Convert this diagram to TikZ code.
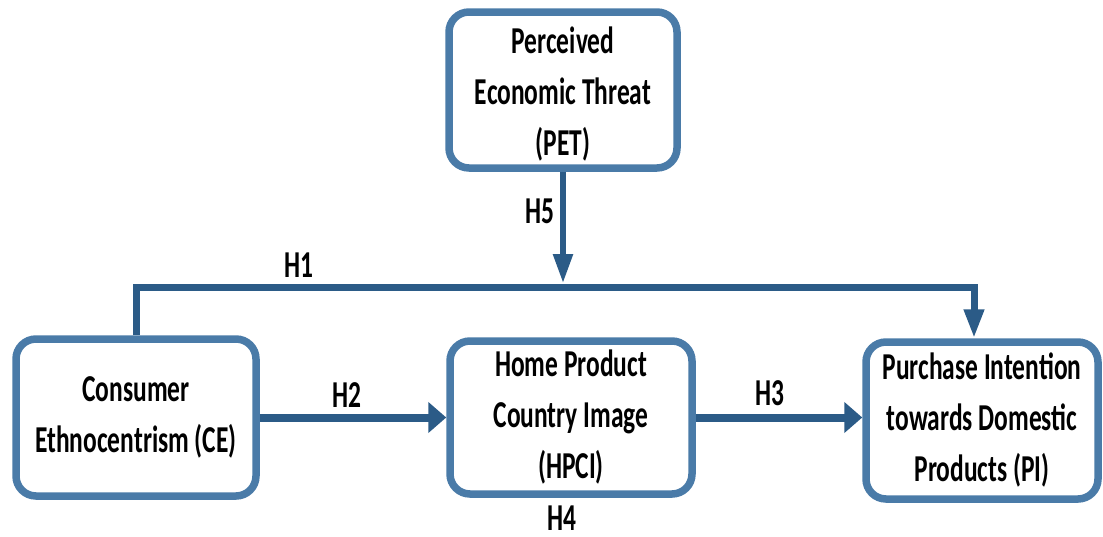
\documentclass[tikz,border=0pt]{standalone}
\usepackage{fontspec}
\newfontfamily\boxfont{Carlito}[FakeStretch=0.67]
\usetikzlibrary{arrows.meta}
\definecolor{boxblue}{HTML}{4A7BA8}
\definecolor{linkblue}{HTML}{2B5B87}
\begin{document}
\begin{tikzpicture}[x=1pt, y=-1pt,
  construct/.style={draw=boxblue, line width=7.5pt, rounded corners=20pt,
    fill=white, align=center, inner sep=0pt,
    font=\boxfont\bfseries\fontsize{38}{51}\selectfont},
  hyp/.style={anchor=base, inner sep=0pt,
    font=\boxfont\bfseries\fontsize{38}{51}\selectfont},
  link/.style={draw=linkblue, line width=8pt,
    -{Triangle[length=18pt, width=30pt]}},
  drop/.style={draw=linkblue, line width=6pt,
    -{Triangle[length=29pt, width=19pt]}}]
\useasboundingbox (0,0) rectangle (1103,536);

% constructs
\node[construct, minimum width=228pt, minimum height=156pt] (pet) at (563,90)
  {\rule{0pt}{34pt}Perceived\\Economic Threat\\(PET)};
\node[construct, minimum width=240pt, minimum height=157pt] (ce) at (136,417.5)
  {Consumer\\Ethnocentrism (CE)};
\node[construct, minimum width=242pt, minimum height=153pt] (hpci) at (571,417.5)
  {Home Product\\Country Image\\(HPCI)};
\node[construct, minimum width=232pt, minimum height=157pt] (pi) at (982,420.5)
  {Purchase Intention\\towards Domestic\\Products (PI)};

% H1 path and the moderating link onto it
\coordinate (h1r) at (974,287);
\coordinate (h1top) at (563,283);
\draw[drop, line width=7pt] (ce.north) |- (h1r) -- (h1r |- pi.north);
\draw[drop, line width=5.5pt] (pet.south) -- (h1top);

% direct links
\draw[link] (ce.east) -- (hpci.west);
\draw[link] (hpci.east) -- (hpci.east -| pi.west);

% hypothesis labels
\node[hyp] (lh1) at (299,277) {H1};
\node[hyp] (lh2) at (347,407) {H2};
\node[hyp] (lh3) at (770,405) {H3};
\node[hyp] (lh4) at (562,530) {H4};
\node[hyp] (lh5) at (540,223) {H5};
\end{tikzpicture}
\end{document}
